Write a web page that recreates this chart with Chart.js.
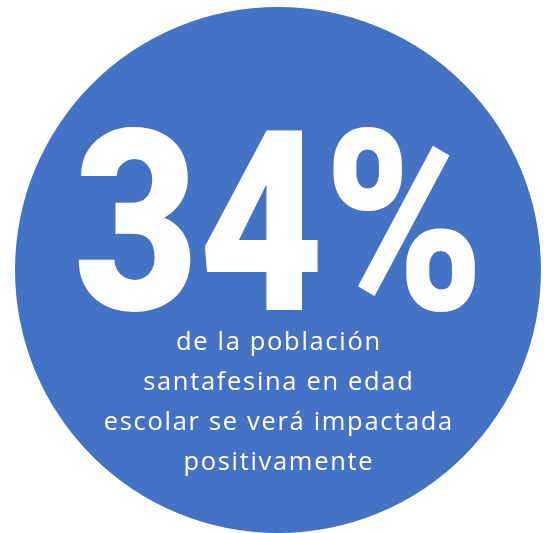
<!DOCTYPE html>
<html>
<head>
<meta charset="utf-8">
<script src="https://cdn.jsdelivr.net/npm/chart.js@4/dist/chart.umd.min.js"></script>
<style>
  html, body { margin: 0; padding: 0; background: #ffffff; }
  #c { display: block; }
</style>
</head>
<body>
<canvas id="c" width="544" height="533"></canvas>
<script>
// ---- data ----
const sliceLabels = ["Población en edad escolar"];
const sliceValues = [100];
const headline = "34%";
const subtitleLines = [
  "de la población",
  "santafesina en edad",
  "escolar se verá impactada",
  "positivamente"
];

const BLUE = "#4472C4";

const textPlugin = {
  id: "centerText",
  afterDraw(chart) {
    const ctx = chart.ctx;
    ctx.save();
    ctx.fillStyle = "#ffffff";
    // headline
    const baseSize = 100;
    ctx.font = "900 " + baseSize + "px Roboto";
    let m = ctx.measureText(headline);
    const targetAscent = 182;
    const size = baseSize * targetAscent / m.actualBoundingBoxAscent;
    ctx.font = "900 " + size + "px Roboto";
    m = ctx.measureText(headline);
    const inkW = m.actualBoundingBoxLeft + m.actualBoundingBoxRight;
    const targetW = 397;
    const sx = targetW / inkW;
    const left = 78;
    const baseline = 310;
    ctx.save();
    ctx.translate(left, baseline);
    ctx.scale(sx, 1);
    ctx.textAlign = "left";
    ctx.textBaseline = "alphabetic";
    ctx.fillText(headline, m.actualBoundingBoxLeft, 0);
    ctx.restore();
    // subtitle
    ctx.font = "400 25.5px 'Open Sans'";
    ctx.letterSpacing = "0px";
    const ref = subtitleLines[2];
    const w0 = ctx.measureText(ref).width;
    const spacing = (350 - w0) / ref.length;
    ctx.letterSpacing = spacing.toFixed(2) + "px";
    ctx.textAlign = "center";
    ctx.textBaseline = "alphabetic";
    const baselines = [350, 390, 430, 470];
    subtitleLines.forEach((line, i) => {
      ctx.fillText(line, 278 + spacing / 2, baselines[i]);
    });
    ctx.restore();
  }
};

new Chart(document.getElementById("c"), {
  type: "pie",
  data: {
    labels: sliceLabels,
    datasets: [{
      data: sliceValues,
      backgroundColor: [BLUE],
      borderWidth: 0,
      hoverOffset: 0
    }]
  },
  options: {
    responsive: false,
    animation: false,
    devicePixelRatio: 1,
    layout: { padding: { left: 15, right: 3, top: 7, bottom: 0 } },
    plugins: {
      legend: { display: false },
      tooltip: { enabled: false },
      title: { display: false }
    },
    events: []
  },
  plugins: [textPlugin]
});
</script>
</body>
</html>
